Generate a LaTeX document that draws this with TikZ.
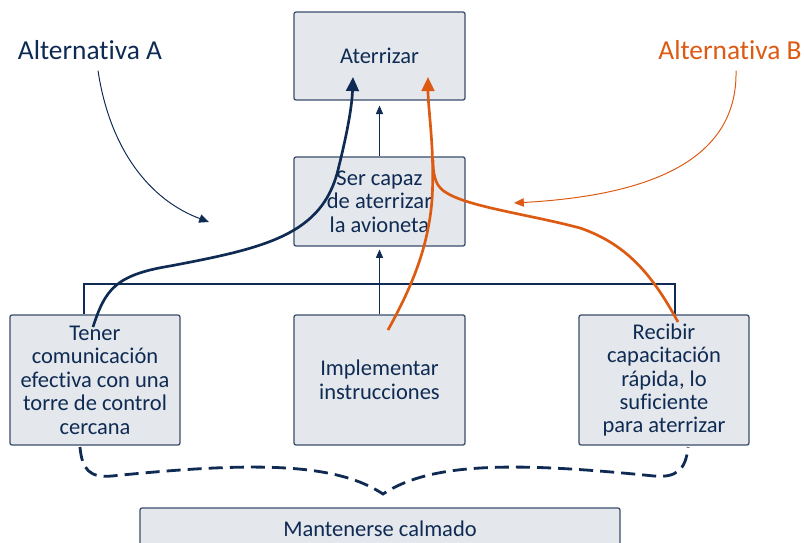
\documentclass[tikz,border=0pt]{standalone}
\usepackage{fontspec}
\setmainfont{Carlito}[Ligatures=NoCommon]
\usetikzlibrary{arrows.meta}
\definecolor{navy}{HTML}{0F2B53}
\definecolor{naranja}{HTML}{DD5A12}
\definecolor{relleno}{HTML}{E4E7EC}
\definecolor{borde}{HTML}{3A4D6B}

\begin{document}
\begin{tikzpicture}[x=0.025cm,y=-0.025cm,
		caja/.style={draw=borde,fill=relleno,line width=0.9pt,rounded corners=1.5pt,align=center,text=navy,font=\fontsize{16}{16.7}\selectfont,inner sep=2pt},
		rama/.style={draw=navy,line width=0.8pt},
		flecha/.style={-{Triangle[length=6pt,width=5pt]}},
		ruta/.style={line width=1.9pt,-{Triangle[length=10pt,width=9pt]}},
		etiqueta/.style={font=\fontsize{19.5}{22}\selectfont}]
	\useasboundingbox (0,0) rectangle (804,542);
	\clip (0,0) rectangle (804,542);

	% cajas
	\node[caja,minimum width=4.275cm,minimum height=2.2cm] (aterrizar) at (379.5,56) {Aterrizar};
	\node[caja,minimum width=4.275cm,minimum height=2.225cm] (capaz) at (379.5,201.5) {Ser capaz\\de aterrizar\\la avioneta};
	\node[caja,minimum width=4.25cm,minimum height=3.25cm] (tener) at (95,380) {Tener\\comunicación\\efectiva con una\\torre de control\\cercana};
	\node[caja,minimum width=4.275cm,minimum height=3.25cm] (implementar) at (379.5,380) {Implementar\\instrucciones};
	\node[caja,minimum width=4.25cm,minimum height=3.25cm] (recibir) at (664,380) {Recibir\\capacitación\\rápida, lo\\suficiente\\para aterrizar};
	\node[caja,minimum width=12cm,minimum height=1.05cm] (calmado) at (380,529) {Mantenerse calmado};

	% arbol
	\coordinate (barra) at (379.5,284);
	\draw[rama] ([xshift=-0.275cm]tener.north) |- (barra) -| ([xshift=0.275cm]recibir.north);
	\draw[rama,flecha,shorten >=2pt] (implementar.north) -- (capaz.south);
	\draw[rama,flecha,shorten >=3.5pt] (capaz.north) -- (aterrizar.south);

	% llave
	\draw[navy,line width=2pt,dash pattern=on 10pt off 5pt]
		(80,447) .. controls (82,470) and (90,478) .. (112,476)
		.. controls (250,462) and (335,462) .. (383,494)
		.. controls (431,462) and (516,462) .. (654,476)
		.. controls (676,478) and (686,470) .. (688,447);

	% alternativas
	\node[etiqueta,text=navy] (altA) at (90,50) {Alternativa A};
	\node[etiqueta,text=naranja] (altB) at (730,50) {Alternativa B};
	\coordinate (puntaA) at (209,222);
	\coordinate (puntaB) at (514,203);
	\draw[navy,line width=0.7pt,-{Triangle[length=7pt,width=6pt]}] ([xshift=0.2cm,yshift=-0.15cm]altA.south) .. controls (110,150) and (150,200) .. (puntaA);
	\draw[naranja,line width=0.7pt,-{Triangle[length=7pt,width=6pt]}] ([xshift=0.15cm,yshift=-0.15cm]altB.south) .. controls (738,165) and (640,196) .. (puntaB);

	\coordinate (inicioA) at (93,327);
	\coordinate (finA) at (353,77);
	\draw[navy,ruta] (inicioA) .. controls (105,290) and (115,275) .. (170,266)
		.. controls (265,248) and (322,235) .. (338,170)
		.. controls (348,130) and (352,105) .. (finA);

	\coordinate (inicioB) at (388,330);
	\coordinate (union) at (433,160);
	\coordinate (finB) at (428,77);
	\draw[naranja,ruta] (inicioB) .. controls (410,290) and (428,250) .. (432,200)
		.. controls (435,150) and (428,110) .. (finB);
	\coordinate (inicioC) at (678,322);
	\draw[naranja,line width=1.9pt] (inicioC) .. controls (655,280) and (630,245) .. (580,228)
		.. controls (520,212) and (450,205) .. (438,185)
		.. controls (434,178) and (433,170) .. (union);
\end{tikzpicture}
\end{document}
